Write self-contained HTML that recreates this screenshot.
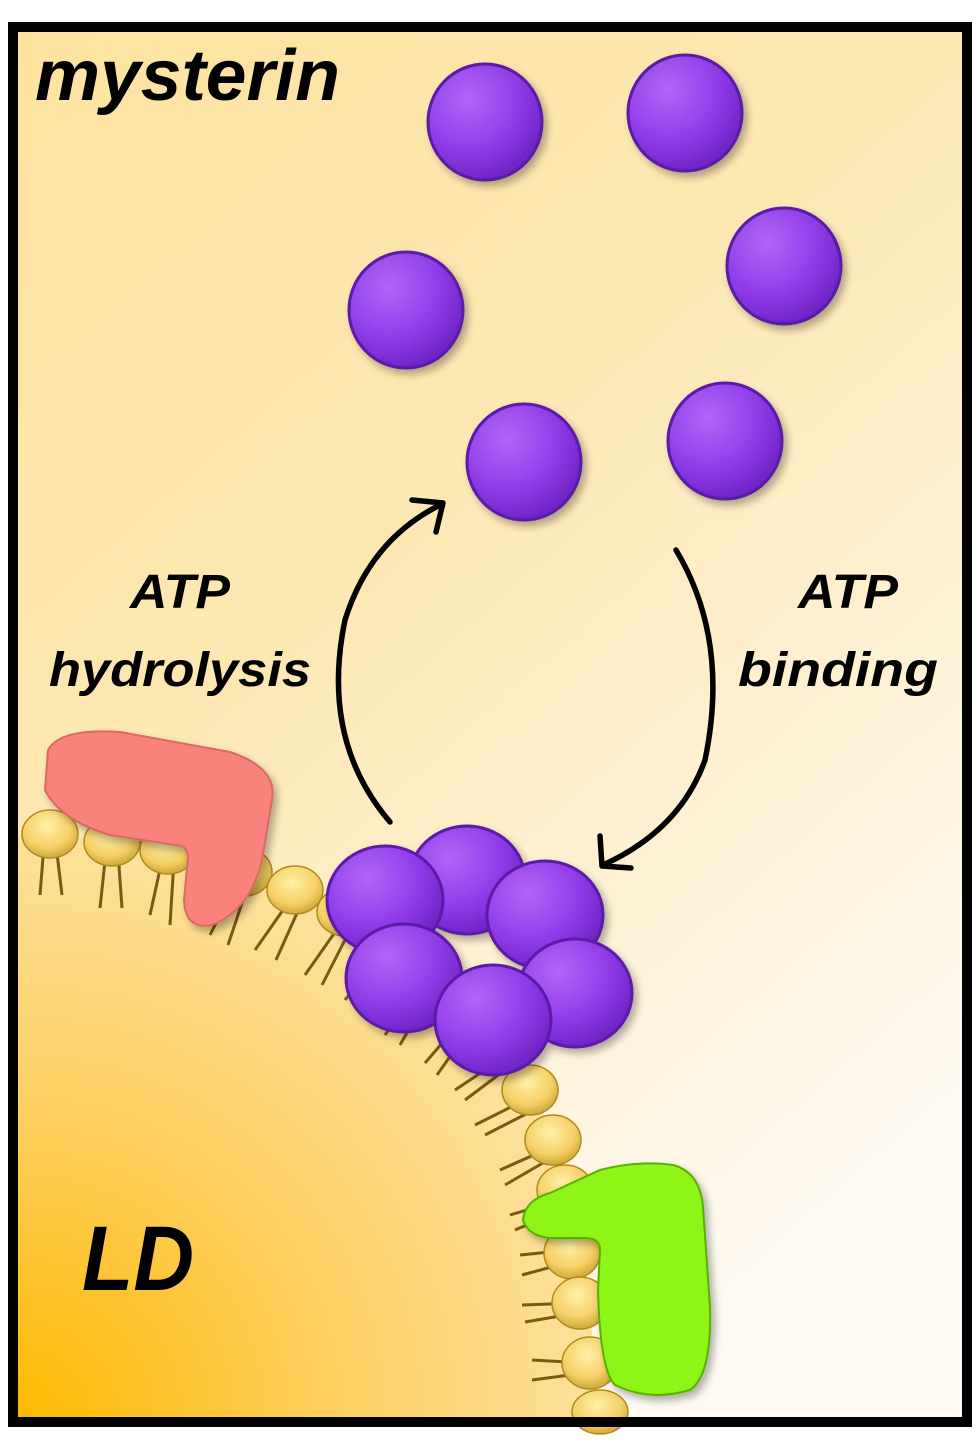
<!DOCTYPE html>
<html><head><meta charset="utf-8"><style>
html,body{margin:0;padding:0;background:#fff;}
svg{display:block;}
text{font-family:"Liberation Sans",sans-serif;font-weight:bold;font-style:italic;fill:#000;}
</style></head><body>
<svg width="978" height="1452" viewBox="0 0 978 1452" xmlns="http://www.w3.org/2000/svg">
<defs>
<linearGradient id="bg" x1="0" y1="0" x2="0.6" y2="1">
<stop offset="0" stop-color="#fde3a0"/><stop offset="0.45" stop-color="#fde8b4"/><stop offset="1" stop-color="#fffaf2"/>
</linearGradient>
<radialGradient id="ld" cx="20" cy="1420" r="620" gradientUnits="userSpaceOnUse">
<stop offset="0" stop-color="#fdb800"/><stop offset="0.5" stop-color="#fdd060"/><stop offset="1" stop-color="#fde3a4"/>
</radialGradient>
<radialGradient id="ball" cx="0.35" cy="0.3" r="0.75">
<stop offset="0" stop-color="#b266f5"/><stop offset="0.6" stop-color="#8e3ce8"/><stop offset="1" stop-color="#6a22c0"/>
</radialGradient>
<radialGradient id="head" cx="0.45" cy="0.35" r="0.7">
<stop offset="0" stop-color="#fff0a8"/><stop offset="0.6" stop-color="#f6d268"/><stop offset="1" stop-color="#c9a030"/>
</radialGradient>
<filter id="sh" x="-20%" y="-20%" width="150%" height="150%"><feDropShadow dx="4" dy="5" stdDeviation="4" flood-color="#000" flood-opacity="0.3"/></filter>
</defs>
<rect x="13" y="27" width="954" height="1395" fill="url(#bg)"/>
<path d="M13,834 L50,834 Q112,842 168,850 Q244,872 295,888 Q400,945 470,1010 Q530,1086 556,1137 Q583,1246 590,1300 L597,1422 L13,1422 Z" fill="url(#ld)"/>
<g stroke="#7a5a10" stroke-width="3">
<line x1="44" y1="845" x2="40" y2="895"/><line x1="56" y1="845" x2="62" y2="895"/>
<line x1="106" y1="852" x2="100" y2="908"/><line x1="118" y1="852" x2="122" y2="908"/>
<line x1="162" y1="860" x2="150" y2="915"/><line x1="174" y1="860" x2="170" y2="925"/>
<line x1="235" y1="885" x2="210" y2="935"/><line x1="248" y1="885" x2="228" y2="945"/>
<line x1="290" y1="900" x2="255" y2="950"/><line x1="302" y1="902" x2="276" y2="960"/>
<line x1="340" y1="925" x2="305" y2="975"/><line x1="350" y1="930" x2="322" y2="985"/>
<line x1="380" y1="955" x2="345" y2="1000"/><line x1="390" y1="962" x2="360" y2="1010"/>
<line x1="420" y1="985" x2="385" y2="1035"/><line x1="430" y1="992" x2="400" y2="1045"/>
<line x1="462" y1="1020" x2="425" y2="1063"/><line x1="470" y1="1028" x2="437" y2="1075"/>
<line x1="500" y1="1060" x2="455" y2="1090"/><line x1="505" y1="1070" x2="465" y2="1100"/>
<line x1="525" y1="1100" x2="475" y2="1125"/><line x1="530" y1="1112" x2="485" y2="1135"/>
<line x1="545" y1="1150" x2="500" y2="1170"/><line x1="548" y1="1160" x2="505" y2="1185"/>
<line x1="560" y1="1200" x2="510" y2="1215"/><line x1="562" y1="1210" x2="515" y2="1230"/>
<line x1="570" y1="1250" x2="520" y2="1255"/><line x1="570" y1="1262" x2="522" y2="1275"/>
<line x1="578" y1="1303" x2="522" y2="1305"/><line x1="578" y1="1313" x2="525" y2="1322"/>
<line x1="585" y1="1363" x2="532" y2="1360"/><line x1="585" y1="1373" x2="532" y2="1380"/>
</g>
<g fill="url(#head)" stroke="#b08a20" stroke-width="1.5">
<ellipse cx="50" cy="834" rx="28" ry="24"/><ellipse cx="112" cy="842" rx="28" ry="24"/>
<ellipse cx="168" cy="850" rx="28" ry="24"/><ellipse cx="244" cy="872" rx="28" ry="24"/>
<ellipse cx="295" cy="890" rx="28" ry="24"/><ellipse cx="345" cy="912" rx="28" ry="24"/>
<ellipse cx="390" cy="945" rx="28" ry="24"/><ellipse cx="430" cy="975" rx="28" ry="24"/>
<ellipse cx="470" cy="1010" rx="28" ry="24"/><ellipse cx="505" cy="1045" rx="28" ry="24"/>
<ellipse cx="530" cy="1090" rx="28" ry="25"/><ellipse cx="553" cy="1140" rx="28" ry="25"/>
<ellipse cx="565" cy="1190" rx="28" ry="25"/><ellipse cx="572" cy="1253" rx="28" ry="26"/>
<ellipse cx="580" cy="1303" rx="28" ry="26"/><ellipse cx="590" cy="1363" rx="28" ry="26"/>
<ellipse cx="600" cy="1412" rx="28" ry="22"/>
</g>
<path d="M48,750 Q60,728 120,732 L230,752 Q278,768 272,800 L262,860 Q250,910 212,925 Q185,930 184,900 L188,858 Q188,845 175,845 L110,835 Q60,820 45,790 Z" fill="#f9837c" stroke="#d86a62" stroke-width="2" filter="url(#sh)"/>
<path d="M523,1220 Q525,1200 550,1193 L600,1170 Q640,1160 673,1165 Q700,1172 703,1207 L710,1307 Q712,1375 690,1390 Q650,1402 615,1385 Q600,1370 598,1290 L600,1250 Q600,1238 585,1238 L550,1238 Q528,1236 523,1220 Z" fill="#8ef512" stroke="#5ab000" stroke-width="2" filter="url(#sh)"/>
<rect x="13" y="27" width="954" height="1395" fill="none" stroke="#000" stroke-width="10"/>
<g fill="url(#ball)" stroke="#5a1aa8" stroke-width="3" filter="url(#sh)">
<ellipse cx="485" cy="122" rx="57" ry="58"/><ellipse cx="685" cy="113" rx="57" ry="58"/>
<ellipse cx="784" cy="266" rx="57" ry="58"/><ellipse cx="406" cy="310" rx="57" ry="58"/>
<ellipse cx="524" cy="462" rx="57" ry="58"/><ellipse cx="725" cy="441" rx="57" ry="58"/>
<ellipse cx="467" cy="880" rx="58" ry="54"/><ellipse cx="385" cy="900" rx="58" ry="54"/>
<ellipse cx="545" cy="915" rx="58" ry="54"/><ellipse cx="575" cy="993" rx="57" ry="54"/>
<ellipse cx="404" cy="978" rx="58" ry="54"/><ellipse cx="493" cy="1020" rx="58" ry="55"/>
</g>
<g fill="none" stroke="#000" stroke-width="5.5" stroke-linecap="round" stroke-linejoin="round">
<path d="M390,822 Q320,740 345,620 Q370,540 440,505"/>
<path d="M412,500 L443,503 L436,532"/>
<path d="M676,550 Q730,640 705,760 Q680,830 603,865"/>
<path d="M600,836 L602,866 L631,868"/>
</g>
<text x="35" y="100" font-size="72" textLength="305" lengthAdjust="spacingAndGlyphs">mysterin</text>
<text x="180" y="608" font-size="48" text-anchor="middle" textLength="100" lengthAdjust="spacingAndGlyphs">ATP</text>
<text x="180" y="686" font-size="48" text-anchor="middle" textLength="262" lengthAdjust="spacingAndGlyphs">hydrolysis</text>
<text x="848" y="608" font-size="48" text-anchor="middle" textLength="100" lengthAdjust="spacingAndGlyphs">ATP</text>
<text x="838" y="686" font-size="48" text-anchor="middle" textLength="200" lengthAdjust="spacingAndGlyphs">binding</text>
<text x="82" y="1290" font-size="92" textLength="112" lengthAdjust="spacingAndGlyphs">LD</text>
</svg>
</body></html>
